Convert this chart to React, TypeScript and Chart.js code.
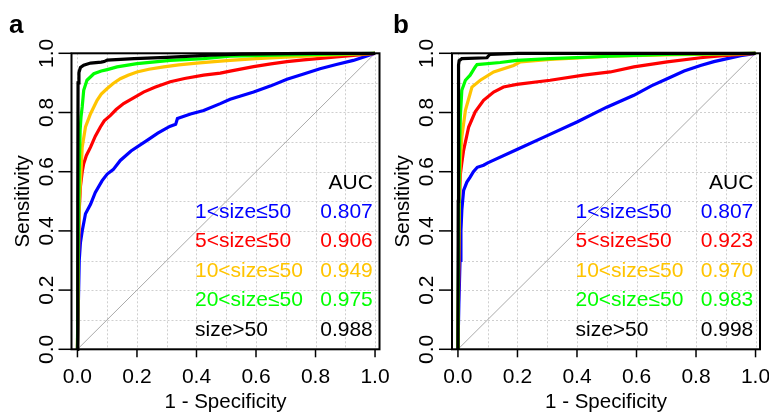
import React, { useEffect, useRef } from "react";
import { Chart, registerables } from "chart.js";

Chart.register(...registerables);

const W = 769;
const H = 412;
const FONT = '"Liberation Sans", Arial, Helvetica, sans-serif';

// ---- axis / legend text ----
const xTickValues = [0, 0.2, 0.4, 0.6, 0.8, 1.0];
const yTickValues = [0, 0.2, 0.4, 0.6, 0.8, 1.0];
const gridValues = [0, 0.1, 0.2, 0.3, 0.4, 0.5, 0.6, 0.7, 0.8, 0.9, 1.0];
const xTitle = "1 - Specificity";
const yTitle = "Sensitivity";
const seriesNames = ["1<size≤50", "5<size≤50", "10<size≤50", "20<size≤50", "size>50"];
const seriesColors = ["#0000FF", "#FF0000", "#FFC400", "#00FF00", "#000000"];
const aucA = ["0.807", "0.906", "0.949", "0.975", "0.988"];
const aucB = ["0.807", "0.923", "0.970", "0.983", "0.998"];

// ---- panel a ROC curves: [1 - specificity, sensitivity] ----
const rocA_size1 = [
  [0, 0], [0.003, 0.15], [0.006, 0.3], [0.01, 0.36], [0.016, 0.4], [0.027, 0.458], [0.044, 0.49],
  [0.06, 0.53], [0.083, 0.57], [0.1, 0.592], [0.12, 0.607], [0.144, 0.638], [0.18, 0.67],
  [0.234, 0.706], [0.27, 0.73], [0.31, 0.753], [0.33, 0.76], [0.336, 0.78], [0.38, 0.795],
  [0.424, 0.807], [0.48, 0.83], [0.513, 0.845], [0.592, 0.869], [0.65, 0.89], [0.704, 0.912],
  [0.76, 0.93], [0.815, 0.948], [0.87, 0.962], [0.927, 0.976], [0.97, 0.99], [1, 1],
];
const rocA_size5 = [
  [0, 0], [0.003, 0.3], [0.006, 0.47], [0.01, 0.55], [0.016, 0.6], [0.021, 0.627], [0.03, 0.655],
  [0.044, 0.683], [0.06, 0.72], [0.077, 0.751], [0.09, 0.772], [0.111, 0.79], [0.13, 0.81],
  [0.155, 0.83], [0.19, 0.85], [0.222, 0.869], [0.26, 0.885], [0.312, 0.904], [0.36, 0.915],
  [0.424, 0.926], [0.48, 0.933], [0.513, 0.94], [0.592, 0.955], [0.65, 0.964], [0.704, 0.972],
  [0.76, 0.978], [0.815, 0.983], [0.87, 0.988], [0.927, 0.993], [1, 1],
];
const rocA_size10 = [
  [0, 0], [0.003, 0.3], [0.006, 0.5], [0.011, 0.58], [0.016, 0.683], [0.027, 0.751], [0.044, 0.796],
  [0.066, 0.841], [0.08, 0.862], [0.1, 0.881], [0.12, 0.898], [0.144, 0.914], [0.17, 0.926],
  [0.2, 0.937], [0.24, 0.946], [0.29, 0.954], [0.34, 0.961], [0.4, 0.967], [0.46, 0.972],
  [0.513, 0.976], [0.6, 0.982], [0.7, 0.987], [0.8, 0.992], [0.9, 0.996], [1, 1],
];
const rocA_size20 = [
  [0, 0], [0.003, 0.4], [0.006, 0.6], [0.009, 0.74], [0.012, 0.785], [0.016, 0.819], [0.021, 0.875],
  [0.032, 0.909], [0.055, 0.931], [0.08, 0.94], [0.1, 0.945], [0.133, 0.954], [0.2, 0.965],
  [0.312, 0.976], [0.424, 0.982], [0.513, 0.99], [0.7, 0.995], [1, 1],
];
const rocA_size50 = [
  [0, 0], [0.001, 0.5], [0.002, 0.9], [0.005, 0.935], [0.01, 0.952], [0.021, 0.96], [0.044, 0.967],
  [0.08, 0.97], [0.09, 0.972], [0.1, 0.977], [0.19, 0.982], [0.3, 0.986], [0.446, 0.994],
  [0.55, 0.997], [0.7, 0.999], [0.8, 1], [1, 1],
];

// ---- panel b ROC curves ----
const rocB_size1 = [
  [0, 0], [0.003, 0.15], [0.007, 0.3], [0.01, 0.4], [0.013, 0.47], [0.019, 0.537], [0.03, 0.565],
  [0.041, 0.582], [0.052, 0.6], [0.065, 0.615], [0.086, 0.622], [0.1, 0.63], [0.2, 0.676],
  [0.3, 0.722], [0.4, 0.768], [0.5, 0.818], [0.591, 0.858], [0.65, 0.89], [0.703, 0.914],
  [0.76, 0.94], [0.815, 0.959], [0.86, 0.972], [0.905, 0.982], [0.95, 0.992], [1, 1],
];
const rocB_size5 = [
  [0, 0], [0.003, 0.3], [0.005, 0.5], [0.008, 0.59], [0.013, 0.63], [0.019, 0.672], [0.036, 0.751],
  [0.058, 0.802], [0.086, 0.841], [0.12, 0.869], [0.153, 0.886], [0.198, 0.895], [0.31, 0.909],
  [0.422, 0.926], [0.512, 0.937], [0.591, 0.954], [0.703, 0.971], [0.815, 0.985], [0.88, 0.991],
  [1, 1],
];
const rocB_size10 = [
  [0, 0], [0.003, 0.4], [0.006, 0.58], [0.008, 0.639], [0.013, 0.717], [0.025, 0.807], [0.041, 0.864],
  [0.047, 0.886], [0.075, 0.909], [0.12, 0.937], [0.187, 0.959], [0.21, 0.971], [0.31, 0.979],
  [0.42, 0.985], [0.51, 0.99], [0.7, 0.995], [1, 1],
];
const rocB_size20 = [
  [0, 0], [0.003, 0.5], [0.006, 0.7], [0.008, 0.785], [0.013, 0.875], [0.025, 0.909], [0.041, 0.926],
  [0.058, 0.954], [0.064, 0.962], [0.142, 0.969], [0.198, 0.976], [0.31, 0.982], [0.51, 0.99],
  [0.7, 0.996], [1, 1],
];
const rocB_size50 = [
  [0, 0], [0.001, 0.5], [0.002, 0.96], [0.004, 0.975], [0.013, 0.982], [0.097, 0.985],
  [0.107, 0.996], [0.2, 1], [1, 1],
];

const diagonal = [[0, 0], [1, 1]];

const panelACurves = [rocA_size1, rocA_size5, rocA_size10, rocA_size20, rocA_size50];
const panelBCurves = [rocB_size1, rocB_size5, rocB_size10, rocB_size20, rocB_size50];

type PanelCfg = {
  letter: string;
  letterX: number;
  plotLeft: number;
  plotRight: number;
  curves: number[][][];
  aucs: string[];
};

const panels: PanelCfg[] = [
  { letter: "a", letterX: 9, plotLeft: 71.5, plotRight: 379.5, curves: panelACurves, aucs: aucA },
  { letter: "b", letterX: 393, plotLeft: 452, plotRight: 760, curves: panelBCurves, aucs: aucB },
];

const PLOT_TOP = 53.3;
const PLOT_BOTTOM = 349.3;

function makeDecor(p: PanelCfg) {
  return {
    id: "decor" + p.letter,
    beforeDatasetsDraw(chart: any) {
      const { ctx, chartArea: ca, scales } = chart;
      const x = scales.x;
      const y = scales.y;
      ctx.save();
      ctx.strokeStyle = "#cfcfcf";
      ctx.lineWidth = 1;
      ctx.setLineDash([2, 2]);
      for (const g of gridValues) {
        const px = Math.round(x.getPixelForValue(g)) + 0.5;
        ctx.beginPath();
        ctx.moveTo(px, ca.top);
        ctx.lineTo(px, ca.bottom);
        ctx.stroke();
        const py = Math.round(y.getPixelForValue(g)) + 0.5;
        ctx.beginPath();
        ctx.moveTo(ca.left, py);
        ctx.lineTo(ca.right, py);
        ctx.stroke();
      }
      ctx.restore();
    },
    afterDatasetsDraw(chart: any) {
      const { ctx, chartArea: ca, scales } = chart;
      const x = scales.x;
      const y = scales.y;
      ctx.save();
      ctx.setLineDash([]);
      // box
      ctx.strokeStyle = "#000";
      ctx.lineWidth = 2;
      ctx.strokeRect(ca.left, ca.top, ca.right - ca.left, ca.bottom - ca.top);

      // y ticks
      ctx.lineWidth = 1.5;
      ctx.fillStyle = "#000";
      ctx.font = `21px ${FONT}`;
      for (const v of yTickValues) {
        const py = y.getPixelForValue(v);
        ctx.beginPath();
        ctx.moveTo(ca.left - 13, py);
        ctx.lineTo(ca.left, py);
        ctx.stroke();
        ctx.save();
        ctx.translate(ca.left - 19, py);
        ctx.rotate(-Math.PI / 2);
        ctx.textAlign = "center";
        ctx.textBaseline = "alphabetic";
        ctx.fillText(v.toFixed(1), 0, 0);
        ctx.restore();
      }
      // x ticks
      for (const v of xTickValues) {
        const px = x.getPixelForValue(v);
        ctx.beginPath();
        ctx.moveTo(px, ca.bottom);
        ctx.lineTo(px, ca.bottom + 8);
        ctx.stroke();
        ctx.textAlign = "center";
        ctx.textBaseline = "alphabetic";
        ctx.fillText(v.toFixed(1), px, ca.bottom + 34);
      }
      // axis titles
      ctx.font = `20.5px ${FONT}`;
      ctx.textAlign = "center";
      ctx.fillText(xTitle, (ca.left + ca.right) / 2, ca.bottom + 58.5);
      ctx.save();
      ctx.translate(ca.left - 43, (ca.top + ca.bottom) / 2);
      ctx.rotate(-Math.PI / 2);
      ctx.fillText(yTitle, 0, 0);
      ctx.restore();

      // legend
      ctx.font = `21px ${FONT}`;
      const rowH = 29.4;
      const lastBase = ca.bottom - 13.7;
      const labelX = ca.left + 123.5;
      const valX = ca.right - 6.7;
      ctx.textAlign = "right";
      ctx.fillStyle = "#000";
      ctx.fillText("AUC", valX, lastBase - rowH * seriesNames.length);
      for (let i = 0; i < seriesNames.length; i++) {
        const base = lastBase - rowH * (seriesNames.length - 1 - i);
        ctx.fillStyle = seriesColors[i];
        ctx.textAlign = "left";
        ctx.fillText(seriesNames[i], labelX, base);
        ctx.textAlign = "right";
        ctx.fillText(p.aucs[i], valX, base);
      }

      // panel letter
      ctx.fillStyle = "#000";
      ctx.font = `bold 26px ${FONT}`;
      ctx.textAlign = "left";
      ctx.fillText(p.letter, p.letterX, 33.3);
      ctx.restore();
    },
  };
}

function buildChart(canvas: HTMLCanvasElement, p: PanelCfg) {
  const toXY = (arr: number[][]) => arr.map(([a, b]) => ({ x: a, y: b }));
  const datasets: any[] = p.curves.map((c, i) => ({
    label: seriesNames[i],
    data: toXY(c),
    borderColor: seriesColors[i],
    backgroundColor: seriesColors[i],
    borderWidth: 3.2,
    showLine: true,
    pointRadius: 0,
    tension: 0,
    clip: 6,
    order: seriesNames.length - 1 - i,
  }));
  datasets.push({
    label: "diagonal",
    data: toXY(diagonal),
    borderColor: "#aaaaaa",
    borderWidth: 1,
    showLine: true,
    pointRadius: 0,
    tension: 0,
    order: 10,
  });
  return new Chart(canvas, {
    type: "scatter",
    data: { datasets },
    options: {
      animation: false,
      responsive: false,
      devicePixelRatio: 1,
      events: [],
      layout: {
        padding: {
          left: p.plotLeft,
          right: W - p.plotRight,
          top: PLOT_TOP,
          bottom: H - PLOT_BOTTOM,
        },
      },
      plugins: { legend: { display: false }, tooltip: { enabled: false } },
      scales: {
        x: { type: "linear", min: -0.02, max: 1.015, display: false },
        y: { type: "linear", min: 0, max: 1, display: false },
      },
    } as any,
    plugins: [makeDecor(p)],
  });
}

export default function App() {
  const refA = useRef<HTMLCanvasElement>(null);
  const refB = useRef<HTMLCanvasElement>(null);

  useEffect(() => {
    const charts: Chart[] = [];
    if (refA.current) charts.push(buildChart(refA.current, panels[0]));
    if (refB.current) charts.push(buildChart(refB.current, panels[1]));
    return () => charts.forEach((c) => c.destroy());
  }, []);

  const canvasStyle: React.CSSProperties = {
    position: "absolute",
    left: 0,
    top: 0,
    width: W,
    height: H,
  };

  return (
    <div style={{ position: "fixed", left: 0, top: 0, width: W, height: H, background: "#fff" }}>
      <canvas ref={refA} width={W} height={H} style={canvasStyle} />
      <canvas ref={refB} width={W} height={H} style={canvasStyle} />
    </div>
  );
}
